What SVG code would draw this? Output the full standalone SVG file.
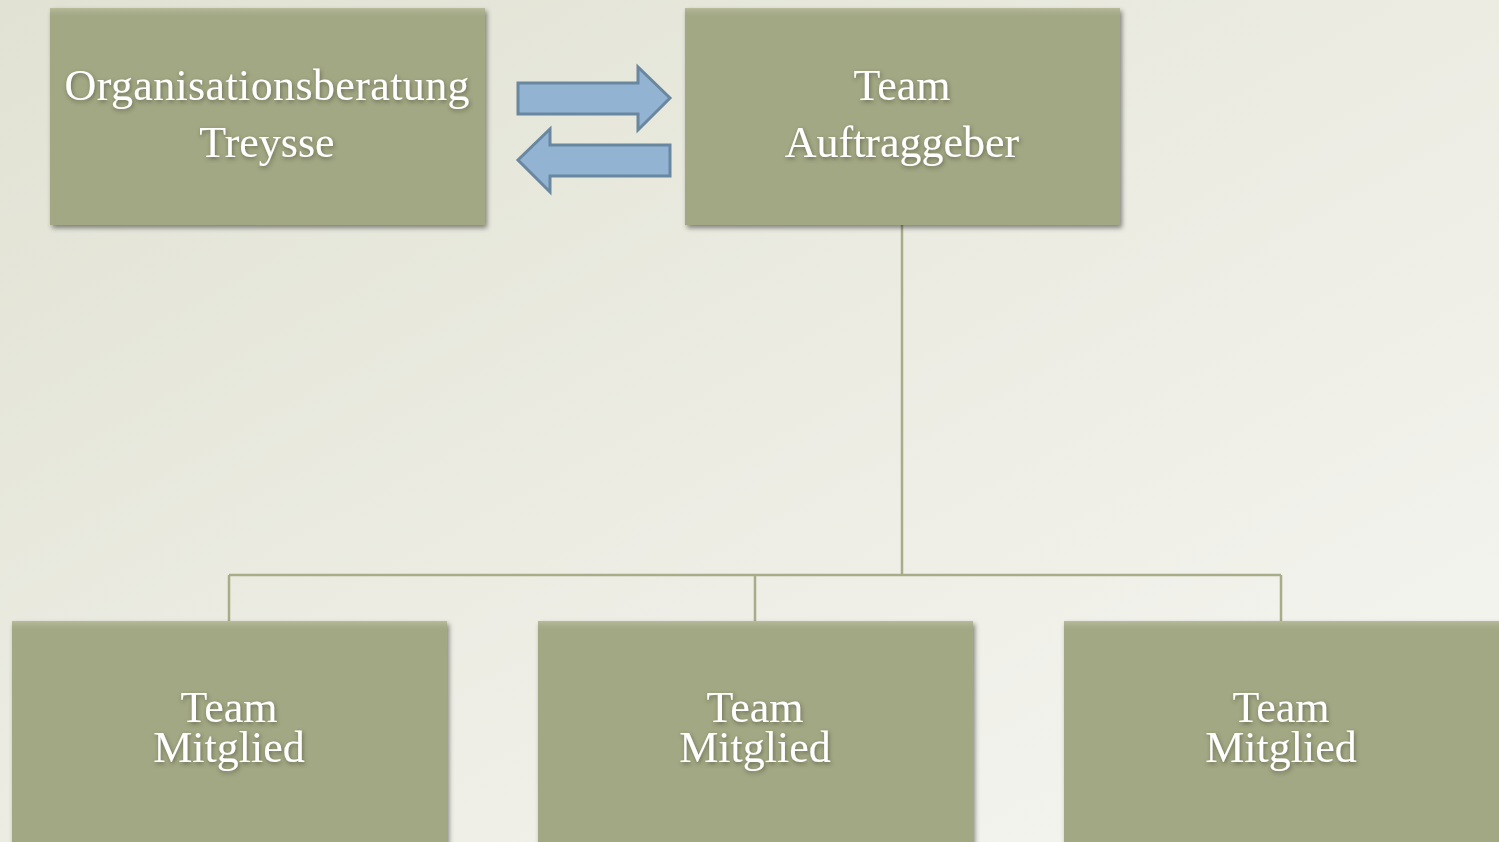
<svg xmlns="http://www.w3.org/2000/svg" width="1499" height="842" viewBox="0 0 1499 842">
<defs>
<linearGradient id="bg" x1="0" y1="0" x2="1" y2="1">
<stop offset="0" stop-color="#E1E2D3"/>
<stop offset="0.5" stop-color="#ECECE3"/>
<stop offset="1" stop-color="#F6F6F2"/>
</linearGradient>
<linearGradient id="topband" x1="0" y1="0" x2="0" y2="1">
<stop offset="0" stop-color="#B9BC9C"/>
<stop offset="1" stop-color="#A2A784" stop-opacity="0"/>
</linearGradient>
<filter id="boxsh" x="-5%" y="-5%" width="112%" height="115%">
<feDropShadow dx="2" dy="3" stdDeviation="2.5" flood-color="#000" flood-opacity="0.45"/>
</filter>
<filter id="txtsh" x="-10%" y="-20%" width="120%" height="150%">
<feDropShadow dx="1" dy="2" stdDeviation="2" flood-color="#3a3d2a" flood-opacity="0.55"/>
</filter>
</defs>
<style>
.box{fill:#A2A784;}
.band{fill:url(#topband);}
.lbl{font-family:"Liberation Serif","DejaVu Serif",serif;font-size:44px;fill:#FFFFFF;text-anchor:middle;filter:url(#txtsh);}
.conn{fill:none;stroke:#A8AD88;stroke-width:2.5;}
.arrow{fill:#93B3D3;stroke:#6A87A0;stroke-width:3;stroke-linejoin:miter;}
</style>
<rect x="0" y="0" width="1499" height="842" fill="url(#bg)"/>
<g id="connectors">
<path class="conn" d="M902 225 V575 M229 575 H1281 M229 575 V621 M755 575 V621 M1281 575 V621"/>
<path id="arrow-right" class="arrow" d="M518 83 H638 V67 L670 98 L638 130 V114 H518 Z"/>
<path id="arrow-left" class="arrow" d="M670 145 H550 V129 L518 160 L550 192 V176 H670 Z"/>
</g>
<g id="node-org">
<rect class="box" x="50" y="8" width="435" height="217" filter="url(#boxsh)"/>
<rect class="band" x="50" y="8" width="435" height="10"/>
<text class="lbl"><tspan x="267" y="100" textLength="405" lengthAdjust="spacing">Organisationsberatung</tspan><tspan x="267" y="157">Treysse</tspan></text>
</g>
<g id="node-auftraggeber">
<rect class="box" x="685" y="8" width="435" height="217" filter="url(#boxsh)"/>
<rect class="band" x="685" y="8" width="435" height="10"/>
<text class="lbl"><tspan x="902" y="100">Team</tspan><tspan x="902" y="157">Auftraggeber</tspan></text>
</g>
<g id="node-mitglied-1">
<rect class="box" x="12" y="621" width="435" height="230" filter="url(#boxsh)"/>
<rect class="band" x="12" y="621" width="435" height="10"/>
<text class="lbl"><tspan x="229" y="722">Team</tspan><tspan x="229" y="762">Mitglied</tspan></text>
</g>
<g id="node-mitglied-2">
<rect class="box" x="538" y="621" width="435" height="230" filter="url(#boxsh)"/>
<rect class="band" x="538" y="621" width="435" height="10"/>
<text class="lbl"><tspan x="755" y="722">Team</tspan><tspan x="755" y="762">Mitglied</tspan></text>
</g>
<g id="node-mitglied-3">
<rect class="box" x="1064" y="621" width="440" height="230" filter="url(#boxsh)"/>
<rect class="band" x="1064" y="621" width="440" height="10"/>
<text class="lbl"><tspan x="1281" y="722">Team</tspan><tspan x="1281" y="762">Mitglied</tspan></text>
</g>
</svg>
